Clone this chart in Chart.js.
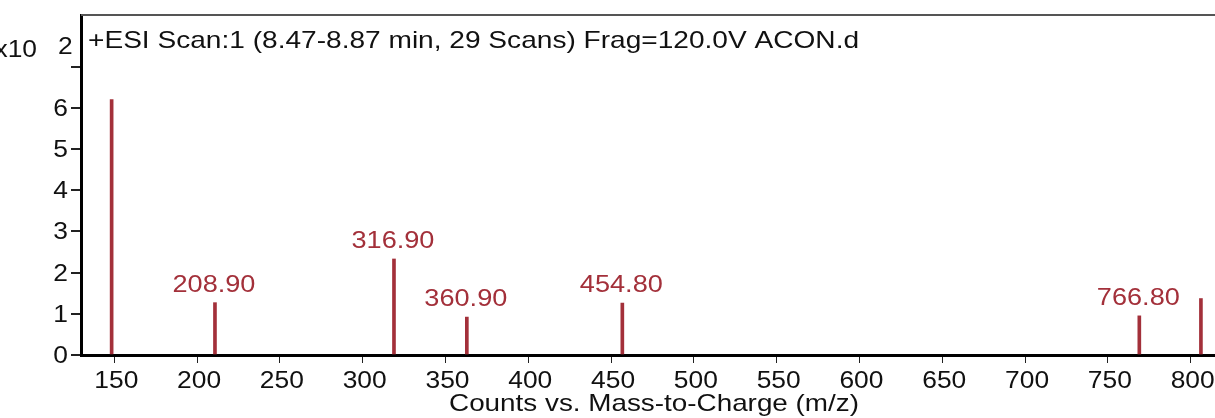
<!DOCTYPE html>
<html>
<head>
<meta charset="utf-8">
<script src="https://cdn.jsdelivr.net/npm/chart.js@4"></script>
<style>
  html, body { margin: 0; padding: 0; background: #fff; }
  #wrap { width: 1215px; height: 418px; }
</style>
</head>
<body>
<div id="wrap"><canvas id="ms"></canvas></div>
<script>
// picos del espectro (m/z, cuentas x10^2)
const peakMz = [148.4, 210.8, 318.9, 362.9, 456.8, 769.0, 806.2];
const peakCounts = [6.2, 1.27, 2.33, 0.92, 1.26, 0.95, 1.37];
const peakLabels = ['', '208.90', '316.90', '360.90', '454.80', '766.80', ''];
const xTickValues = [150, 200, 250, 300, 350, 400, 450, 500, 550, 600, 650, 700, 750, 800];
const yTickValues = [0, 1, 2, 3, 4, 5, 6, 7];
const yTickLabels = ['0', '1', '2', '3', '4', '5', '6', ''];

const titleText = '+ESI Scan:1 (8.47-8.87 min, 29 Scans) Frag=120.0V ACON.d';
const xTitle = 'Counts vs. Mass-to-Charge (m/z)';
const FONT = '"Liberation Sans", Arial, sans-serif';
const RED = '#a3303a';

// texto estirado en horizontal, como en la captura original
function textoAncho(ctx, txt, x, y, align, sx) {
    const w = ctx.measureText(txt).width * sx;
    let x0 = x;
    if (align === 'center') x0 = x - w / 2;
    else if (align === 'right') x0 = x - w;
    ctx.save();
    ctx.translate(x0, y);
    ctx.scale(sx, 1);
    ctx.textAlign = 'left';
    ctx.fillText(txt, 0, 0);
    ctx.restore();
}

const decoraciones = {
    id: 'decoraciones',
    afterDatasetsDraw(chart) {
        const { ctx, chartArea } = chart;
        const meta = chart.getDatasetMeta(0);
        const xs = chart.scales.x, ys = chart.scales.y;
        ctx.save();
        ctx.textBaseline = 'alphabetic';
        // etiquetas de los picos
        ctx.fillStyle = RED;
        ctx.font = '24px ' + FONT;
        meta.data.forEach((bar, i) => {
            if (!peakLabels[i]) return;
            textoAncho(ctx, peakLabels[i], bar.x - 1, bar.y - 11, 'center', 1.13);
        });
        // borde superior
        ctx.strokeStyle = '#555';
        ctx.lineWidth = 2;
        ctx.beginPath();
        ctx.moveTo(chartArea.left, chartArea.top);
        ctx.lineTo(chart.width, chartArea.top);
        ctx.stroke();
        ctx.fillStyle = '#111';
        // etiquetas de los ejes
        ctx.font = '24px ' + FONT;
        xTickValues.forEach(v => {
            textoAncho(ctx, String(v), xs.getPixelForValue(v) + 2, 388, 'center', 1.1);
        });
        yTickValues.forEach((v, i) => {
            if (!yTickLabels[i]) return;
            textoAncho(ctx, yTickLabels[i], 68, ys.getPixelForValue(v) + 8, 'right', 1.1);
        });
        // titulo dentro del area
        textoAncho(ctx, titleText, chartArea.left + 7, 48, 'left', 1.17);
        // multiplicador del eje y
        textoAncho(ctx, 'x10', 37, 57, 'right', 1.1);
        textoAncho(ctx, '2', 58, 54, 'left', 1.1);
        // titulo eje x
        textoAncho(ctx, xTitle, (chartArea.left + chartArea.right) / 2 + 6, 411, 'center', 1.16);
        ctx.restore();
    }
};

const ctx = document.getElementById('ms').getContext('2d');
new Chart(ctx, {
    type: 'bar',
    data: {
        datasets: [{
            data: peakMz.map((mz, i) => ({ x: mz, y: peakCounts[i] })),
            backgroundColor: RED,
            barThickness: 3
        }]
    },
    options: {
        responsive: true,
        maintainAspectRatio: false,
        animation: false,
        layout: { padding: { top: 15, right: 0, left: 0, bottom: 0 } },
        plugins: { legend: { display: false }, tooltip: { enabled: false } },
        scales: {
            x: {
                type: 'linear',
                offset: false,
                min: 129.9,
                max: 814.7,
                afterFit(axis) { axis.height = 63; },
                afterBuildTicks(axis) {
                    axis.ticks = xTickValues.map(v => ({ value: v }));
                },
                ticks: { display: false },
                grid: { offset: false, drawOnChartArea: false, drawTicks: true, tickLength: 8, color: '#222', lineWidth: 1 },
                border: { display: true, color: '#000', width: 3 }
            },
            y: {
                min: 0,
                max: 8.25,
                afterFit(axis) { axis.width = 81; },
                afterBuildTicks(axis) {
                    axis.ticks = yTickValues.map(v => ({ value: v }));
                },
                ticks: { display: false },
                grid: { drawOnChartArea: false, drawTicks: true, tickLength: 10, color: '#222', lineWidth: 2 },
                border: { display: true, color: '#000', width: 3 }
            }
        }
    },
    plugins: [decoraciones]
});
</script>
</body>
</html>
